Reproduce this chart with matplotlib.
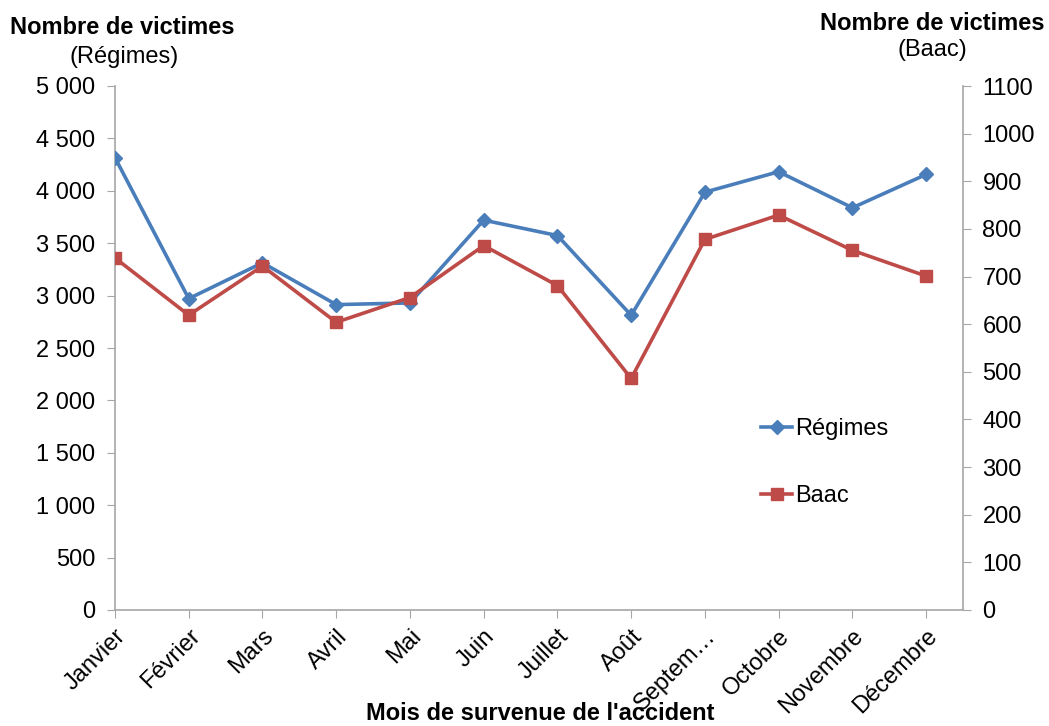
import matplotlib
matplotlib.use("Agg")
import matplotlib.pyplot as plt
from matplotlib.ticker import FuncFormatter, MultipleLocator

plt.rcParams['font.family'] = ['Liberation Sans', 'DejaVu Sans']

mois = ["Janvier", "Février", "Mars", "Avril", "Mai", "Juin", "Juillet",
        "Août", "Septem…", "Octobre", "Novembre", "Décembre"]
regimes = [4316, 2971, 3313, 2914, 2930, 3720, 3573, 2812, 3987, 4182, 3838, 4156]
baac = [739, 619, 722, 604, 656, 765, 681, 486, 778, 829, 755, 701]

blue = "#4A7EBB"
red = "#BE4B48"
axis_gray = "#A6A6A6"
fs = 17

W, H = 1049, 726
fig = plt.figure(figsize=(W / 100, H / 100), dpi=100)
left, right, bottom, top = 115 / W, 963 / W, 1 - 610 / H, 1 - 86 / H
ax = fig.add_axes([left, bottom, right - left, top - bottom])
ax2 = ax.twinx()

x = list(range(len(mois)))
l1, = ax.plot(x, regimes, color=blue, lw=2.6, marker="D", ms=7.5,
              markeredgecolor=blue, label="Régimes", zorder=3)
l2, = ax2.plot(x, baac, color=red, lw=2.6, marker="s", ms=8.5,
               markeredgecolor=red, label="Baac", zorder=3)

ax.set_xlim(0, 11.5)
ax.set_ylim(0, 5000)
ax2.set_ylim(0, 1100)
ax.yaxis.set_major_locator(MultipleLocator(500))
ax2.yaxis.set_major_locator(MultipleLocator(100))
ax.yaxis.set_major_formatter(FuncFormatter(lambda v, p: f"{int(v):,}".replace(",", " ")))
ax2.yaxis.set_major_formatter(FuncFormatter(lambda v, p: f"{int(v)}"))

ax.set_xticks(x)
ax.set_xticklabels(mois, rotation=45, ha="right", rotation_mode="anchor", fontsize=fs)

for a in (ax, ax2):
    a.spines["top"].set_visible(False)
    for s in ("left", "right", "bottom"):
        a.spines[s].set_color(axis_gray)
        a.spines[s].set_linewidth(1.2)
ax.spines["right"].set_visible(False)
ax2.spines["left"].set_visible(False)
ax2.spines["bottom"].set_visible(False)

ax.tick_params(axis="y", direction="out", length=6, color=axis_gray, labelsize=fs, pad=8)
ax.tick_params(axis="x", direction="out", length=6, color=axis_gray, pad=5)
ax2.tick_params(axis="y", direction="out", length=6, color=axis_gray, labelsize=fs, pad=8)

fig.text(10 / W, 1 - 28 / H, "Nombre de victimes", fontsize=fs, fontweight="bold",
         ha="left", va="center")
fig.text(124 / W, 1 - 57 / H, "(Régimes)", fontsize=fs, ha="center", va="center")
fig.text(1044 / W, 1 - 23 / H, "Nombre de victimes", fontsize=fs, fontweight="bold",
         ha="right", va="center")
fig.text(932 / W, 1 - 50 / H, "(Baac)", fontsize=fs, ha="center", va="center")
fig.text(540 / W, 1 - 714 / H, "Mois de survenue de l'accident", fontsize=fs,
         fontweight="bold", ha="center", va="center")

fig.legend([l1, l2], ["Régimes", "Baac"], loc="upper left",
           bbox_to_anchor=(740 / W, 1 - 397 / H), frameon=False, fontsize=fs,
           handlelength=1.3, handletextpad=0.15, labelspacing=1.9)

fig.savefig("out.png", dpi=100, facecolor="white")
